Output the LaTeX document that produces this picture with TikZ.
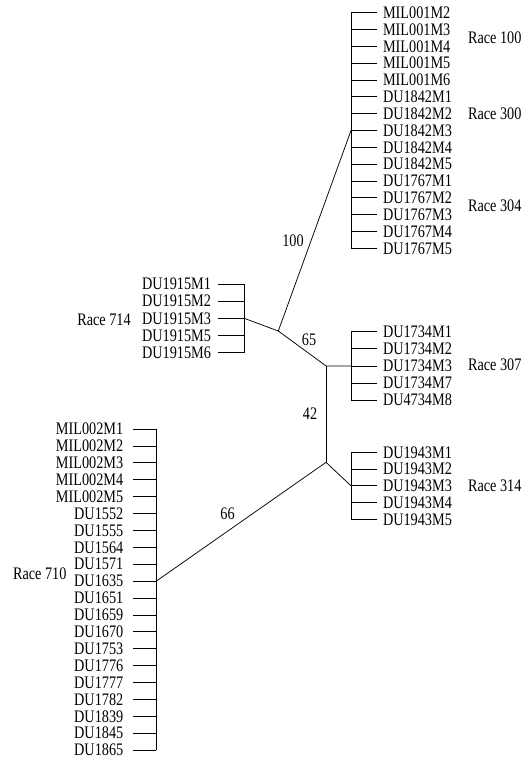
\documentclass[tikz,border=0pt]{standalone}
\usepackage{fontspec}
\setmainfont[FakeStretch=0.81]{Liberation Serif}
\begin{document}
\begin{tikzpicture}[x=1pt,y=-1pt,
  lbl/.style={font=\fontsize{17.6}{18}\selectfont,inner ysep=0pt,outer sep=0pt},
  leafR/.style={lbl,anchor=west,inner xsep=6.3pt},
  leafL/.style={lbl,anchor=east,inner xsep=9.4pt},
  leafM/.style={lbl,anchor=east,inner xsep=7.3pt},
  race/.style={lbl,inner xsep=0pt},
  elbl/.style={lbl,inner sep=0pt},
  br/.style={line width=0.75pt,line cap=rect},
  edge/.style={line width=0.75pt}]
\useasboundingbox (0,0) rectangle (524,758);
% top cluster
\foreach \t [count=\i from 0] in {MIL001M2,MIL001M3,MIL001M4,MIL001M5,MIL001M6,DU1842M1,DU1842M2,DU1842M3,DU1842M4,DU1842M5,DU1767M1,DU1767M2,DU1767M3,DU1767M4,DU1767M5}{
  \coordinate (tk\i) at (351,12.7+\i*16.83);
  \node[leafR] (t\i) at (376.7,12.7+\i*16.83) {\t};
  \draw[edge] (tk\i) -- (t\i.west);
}
\draw[br] (tk0) -- (tk14);
% cluster 307
\foreach \t [count=\i from 0] in {DU1734M1,DU1734M2,DU1734M3,DU1734M7,DU4734M8}{
  \coordinate (pk\i) at (351,331.7+\i*17.1);
  \node[leafR] (p\i) at (376.7,331.7+\i*17.1) {\t};
  \draw[edge] (pk\i) -- (p\i.west);
}
\draw[br] (pk0) -- (pk4);
% cluster 314
\foreach \t [count=\i from 0] in {DU1943M1,DU1943M2,DU1943M3,DU1943M4,DU1943M5}{
  \coordinate (qk\i) at (351,452.3+\i*16.75);
  \node[leafR] (q\i) at (376.7,452.3+\i*16.75) {\t};
  \draw[edge] (qk\i) -- (q\i.west);
}
\draw[br] (qk0) -- (qk4);
% cluster 714
\foreach \t [count=\i from 0] in {DU1915M1,DU1915M2,DU1915M3,DU1915M5,DU1915M6}{
  \coordinate (mk\i) at (244.3,284+\i*17.17);
  \node[leafM] (m\i) at (218.3,284+\i*17.17) {\t};
  \draw[edge] (mk\i) -- (m\i.east);
}
\draw[br] (mk0) -- (mk4);
% cluster 710
\foreach \t [count=\i from 0] in {MIL002M1,MIL002M2,MIL002M3,MIL002M4,MIL002M5,DU1552,DU1555,DU1564,DU1571,DU1635,DU1651,DU1659,DU1670,DU1753,DU1776,DU1777,DU1782,DU1839,DU1845,DU1865}{
  \coordinate (lk\i) at (156.3,429+\i*16.9);
  \node[leafL] (l\i) at (132.7,429+\i*16.9) {\t};
  \draw[edge] (lk\i) -- (l\i.east);
}
\draw[br] (lk0) -- (lk19);
% internal nodes
\coordinate (A) at (278.3,331);
\coordinate (B) at (326,365.9);
\coordinate (C) at (326,462.3);
\draw[edge] (A) -- (tk7);
\draw[edge] (A) -- (mk2);
\draw[edge] (A) -- (B);
\draw[edge] (B) -- (pk2);
\draw[edge] (B) -- (C);
\draw[edge] (C) -- (qk2);
\draw[edge] (C) -- (lk9);
% edge labels
\node[elbl] (e100) at (293,241) {100};
\node[elbl] (e65) at (309,339.5) {65};
\node[elbl] (e42) at (310,413.5) {42};
\node[elbl] (e66) at (227.5,513.5) {66};
% race labels
\node[race,anchor=west] (r100) at (468,38) {Race 100};
\node[race,anchor=west] (r300) at (468,114) {Race 300};
\node[race,anchor=west] (r304) at (468,206) {Race 304};
\node[race,anchor=west] (r307) at (468,365) {Race 307};
\node[race,anchor=west] (r314) at (468,485.5) {Race 314};
\node[race,anchor=east] (r714) at (130.7,320) {Race 714};
\node[race,anchor=west] (r710) at (13,573.3) {Race 710};
\end{tikzpicture}
\end{document}
